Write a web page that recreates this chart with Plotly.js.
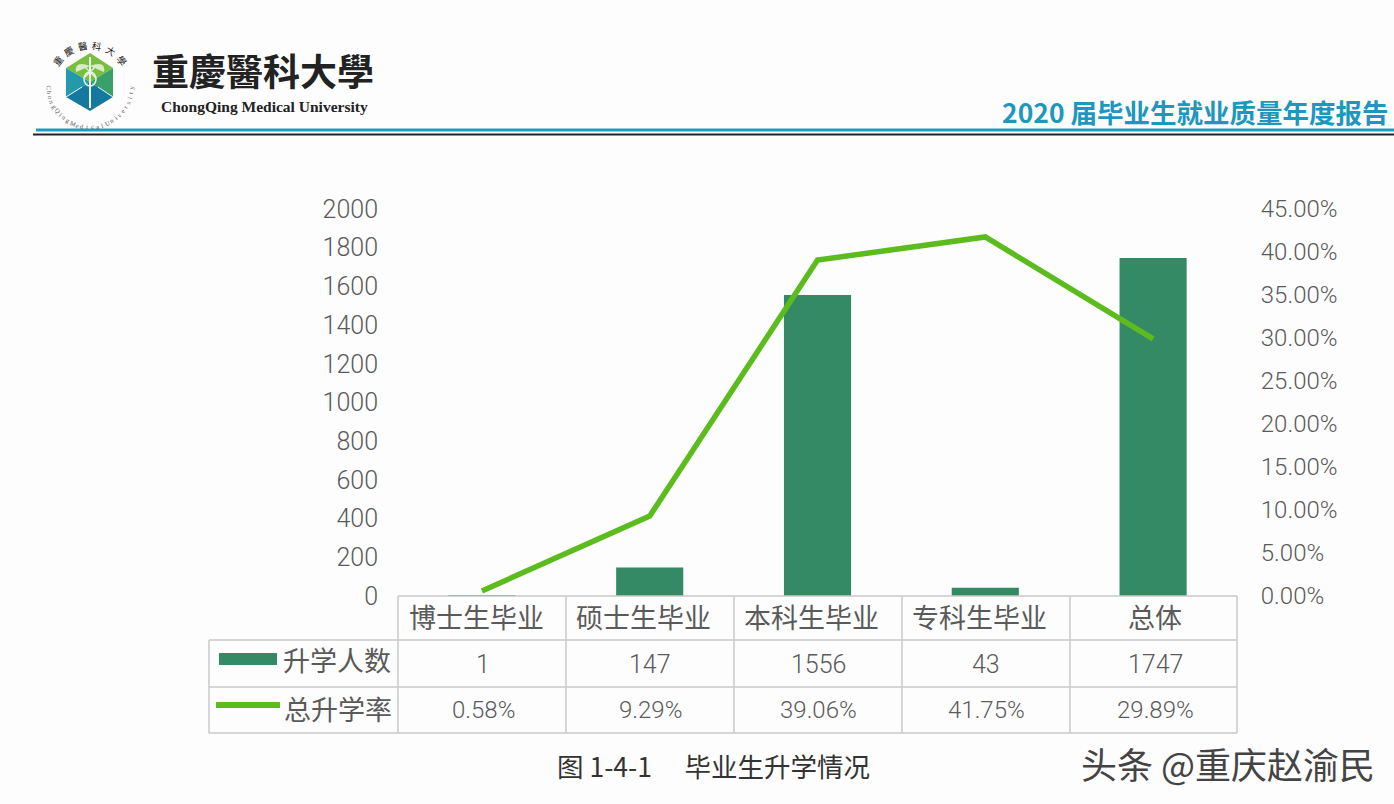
<!DOCTYPE html>
<html><head><meta charset="utf-8">
<script src="https://cdn.plot.ly/plotly-3.0.1.min.js"></script>
<style>html,body{margin:0;padding:0;background:#fdfdfe}#c{width:1394px;height:804px}</style>
</head><body><div id="c"></div>
<script>
const categories = ['博士生毕业','硕士生毕业','本科生毕业','专科生毕业','总体'];
const students = [1,147,1556,43,1747];
const rates = [0.58,9.29,39.06,41.75,29.89];
const rateLabels = ['0.58%','9.29%','39.06%','41.75%','29.89%'];
const seriesNames = ['升学人数','总升学率'];
const caption = '图 1-4-1\u3000 毕业生升学情况';
const reportTitle = '2020 届毕业生就业质量年度报告';
const uniName = '重慶醫科大學';
const uniNameEn = 'ChongQing Medical University';
const watermark = '头条 @重庆赵渝民';

const W=1394,H=804,L=398,R=1237,T=209,B=596;
const px=x=>(x-L)/(R-L), py=y=>(B-y)/(B-T);
const BAR='#358a66',LINE='#5cbc1e',GRID='#c9c9cb',TXT='#5a5a5a';
const NUM='Roboto, "Liberation Sans", sans-serif', CJK='"Noto Sans CJK SC", sans-serif';
const shapes=[], ann=[];
const seg=(x0,y0,x1,y1,color,width)=>shapes.push({type:'line',xref:'paper',yref:'paper',x0:px(x0),x1:px(x1),y0:py(y0),y1:py(y1),line:{color,width},layer:'above'});
const poly=(pts,color)=>shapes.push({type:'path',xref:'paper',yref:'paper',path:'M'+pts.map(p=>px(p[0])+','+py(p[1])).join('L')+'Z',fillcolor:color,line:{width:0},layer:'above'});
const text=(s,x,y,size,color,family,anchor='center',extra={})=>ann.push(Object.assign({text:s,xref:'paper',yref:'paper',x:px(x),y:py(y),xanchor:anchor,yanchor:'middle',showarrow:false,font:{size,color,family}},extra));

// table grid
seg(398,596,1237,596,GRID,1.5);
seg(209,640,1237,640,GRID,1.5);
seg(209,687,1237,687,GRID,1.5);
seg(209,733,1237,733,GRID,1.5);
[398,566,734,902,1070,1237].forEach(x=>seg(x,596,x,733,GRID,1.5));
seg(209,640,209,733,GRID,1.5);

// table contents
const headX=[476,643,811,979,1155], valX=[483,650,818,986,1155];
categories.forEach((c,i)=>{
  text(c,headX[i],616,27,TXT,CJK);
  text(String(students[i]),valX[i],664,25,TXT,NUM,'center',{font:{size:25,color:TXT,family:NUM,weight:300}});
  text(rateLabels[i],valX[i],710,24,TXT,NUM,'center',{font:{size:24,color:TXT,family:NUM,weight:300}});
});
text(seriesNames[0],337,659,27,TXT,CJK);
text(seriesNames[1],338,708,27,TXT,CJK);
shapes.push({type:'rect',xref:'paper',yref:'paper',x0:px(219),x1:px(277),y0:py(653),y1:py(665),fillcolor:BAR,line:{width:0},layer:'above'});
seg(216,705,280,705,LINE,6);

// header
text(reportTitle,1391,112,26.5,'#1e97bf',CJK,'right',{font:{size:26.5,color:'#1e97bf',family:CJK,weight:700}});
seg(36,130,1394,130,'#1e9bbd',3);
seg(33,134.5,1394,134.5,'#222222',2);

// university name and crest
text(uniName,150,70,37,'#222222','"Noto Sans CJK TC", sans-serif','left',{font:{size:37,color:'#222222',family:'"Noto Sans CJK TC", sans-serif',weight:700}});
text(uniNameEn,264,107,15.5,'#222222','"Liberation Serif", serif','center',{font:{size:15.5,color:'#222222',family:'"Liberation Serif", serif',weight:700}});
const C=[90,82];
const hx=[[90,53],[113,68],[113,97],[90,111],[66,97],[66,68]];
poly([C,hx[5],hx[0],hx[1]],'#78bf3f');
poly([C,hx[1],hx[2]],'#38a06a');
poly([C,hx[2],hx[3]],'#15799f');
poly([C,hx[3],hx[4]],'#15799f');
poly([C,hx[4],hx[5]],'#2399a9');
[[90,57,90,108,2],[84,66,96,78,1.2],[96,66,84,78,1.2],[66,97,82,87,1],[113,97,98,87,1]].forEach(a=>seg(a[0],a[1],a[2],a[3],'#e8f4e4',a[4]));
shapes.push({type:'circle',xref:'paper',yref:'paper',x0:px(84),x1:px(96),y0:py(72),y1:py(86),line:{color:'#e8f4e4',width:1.5},layer:'above'});
shapes.push({type:'path',xref:'paper',yref:'paper',path:`M${px(90)},${py(66)}Q${px(74)},${py(60)} ${px(76)},${py(72)}Z`,fillcolor:'#d8ecc8',line:{width:0},layer:'above'});
shapes.push({type:'path',xref:'paper',yref:'paper',path:`M${px(90)},${py(66)}Q${px(106)},${py(60)} ${px(104)},${py(72)}Z`,fillcolor:'#d8ecc8',line:{width:0},layer:'above'});
const arcC=[90,86],arcR=41;
[...uniName].forEach((ch,i)=>{
  const deg=-52+i*20.8, a=deg*Math.PI/180;
  text(ch,arcC[0]+arcR*Math.sin(a),arcC[1]-arcR*Math.cos(a),9.5,'#222222',CJK,'center',{textangle:deg});
});
[...uniNameEn.replace(/ /g,'')].forEach((ch,i,all)=>{
  const deg=-92-i*(176/(all.length-1)), a=deg*Math.PI/180;
  text(ch,arcC[0]+arcR*Math.sin(a),arcC[1]-arcR*Math.cos(a),6.5,'#555555','"Liberation Serif", serif','center',{textangle:deg+180});
});

// caption and watermark
text(caption,555,765,26.5,'#333333',CJK,'left');
text(watermark,1079,763,36,'#444444',CJK,'left');

const traces=[
 {type:'bar',name:seriesNames[0],x:categories,y:students,marker:{color:BAR},width:0.4,hoverinfo:'x+y'},
 {type:'scatter',mode:'lines',name:seriesNames[1],x:categories,y:rates,yaxis:'y2',line:{color:LINE,width:5.5},hoverinfo:'x+y'}
];
const leftFont={family:NUM,size:25,color:TXT,weight:300};
const rightFont={family:NUM,size:24,color:TXT,weight:300};
const layout={
 width:W,height:H,showlegend:false,paper_bgcolor:'#fdfdfe',plot_bgcolor:'rgba(0,0,0,0)',
 margin:{l:L,r:W-R,t:T,b:H-B,pad:0},
 xaxis:{type:'category',categoryorder:'array',categoryarray:categories,range:[-0.5,4.5],showticklabels:false,showgrid:false,zeroline:false,showline:false,ticks:''},
 yaxis:{range:[0,2000],dtick:200,showgrid:false,zeroline:false,showline:false,ticks:'outside',ticklen:14,tickcolor:'rgba(0,0,0,0)',tickfont:leftFont},
 yaxis2:{overlaying:'y',side:'right',range:[0,45],dtick:5,tickformat:'.2f',ticksuffix:'%',showgrid:false,zeroline:false,showline:false,ticks:'outside',ticklen:18,tickcolor:'rgba(0,0,0,0)',tickfont:rightFont},
 shapes,annotations:ann
};
Plotly.newPlot('c',traces,layout,{displayModeBar:false,responsive:false});
</script></body></html>
